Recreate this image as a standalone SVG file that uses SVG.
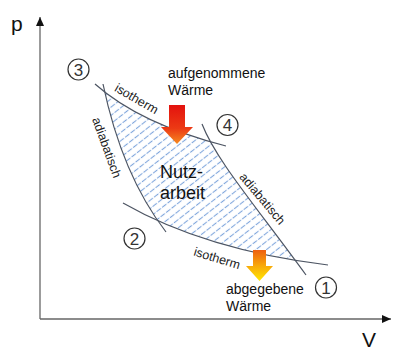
<svg xmlns="http://www.w3.org/2000/svg" width="405" height="363" viewBox="0 0 405 363">
<style>
.t{font-family:"Liberation Sans",Arial,sans-serif;fill:#111}
.lbl{font-family:"Liberation Sans",Arial,sans-serif;fill:#222;font-size:12.5px}
.curve{fill:none;stroke:#4d5563;stroke-width:1.2}
.state circle{fill:#fff;stroke:#333;stroke-width:1.2}
.state text{font-family:"Liberation Sans",Arial,sans-serif;font-size:17px;fill:#333;text-anchor:middle}
.axis{stroke:#666;stroke-width:1.3;fill:none}
</style>
<defs>
<pattern id="hatch" width="7" height="6.5" patternUnits="userSpaceOnUse" patternTransform="rotate(-38)">
<line x1="0" y1="3.25" x2="7" y2="3.25" stroke="#7fa6dc" stroke-width="1.1" stroke-dasharray="5.5 1.5"/>
</pattern>
<clipPath id="cU"><path d="M0,84 L95,84 Q140,124 226,146 L400,146 L400,400 L0,400 Z"/></clipPath>
<clipPath id="cW"><path d="M0,0 L400,0 L400,265 L328,265 Q205,250 123,203 L0,203 Z"/></clipPath>
<clipPath id="cL"><path d="M103,84 Q122,175 166,232 L166,400 L400,400 L400,0 L103,0 Z"/></clipPath>
<clipPath id="cR"><path d="M202,124 C216,160 255,205 306,275 L306,400 L0,400 L0,0 L202,0 Z"/></clipPath>
<linearGradient id="gRed" x1="0" y1="0" x2="0" y2="1">
<stop offset="0" stop-color="#e3120e"/><stop offset="0.6" stop-color="#ec3a14"/><stop offset="1" stop-color="#f68a20"/>
</linearGradient>
<linearGradient id="gYel" x1="0" y1="0" x2="0" y2="1">
<stop offset="0" stop-color="#ee5f10"/><stop offset="0.5" stop-color="#f8a80a"/><stop offset="1" stop-color="#ffe800"/>
</linearGradient>
<marker id="ah" markerWidth="10" markerHeight="10" refX="9" refY="4" orient="auto" markerUnits="userSpaceOnUse">
<path d="M0,0 L9,4 L0,8 Z" fill="#111"/>
</marker>
</defs>

<g id="axes">
<line class="axis" x1="40" y1="319" x2="40" y2="17" marker-end="url(#ah)"/>
<line class="axis" x1="40" y1="319" x2="391" y2="319" marker-end="url(#ah)"/>
<text class="t" x="11" y="31" font-size="21">p</text>
<text class="t" x="362" y="347" font-size="21">V</text>
</g>

<g id="work-area">
<g clip-path="url(#cU)"><g clip-path="url(#cW)"><g clip-path="url(#cL)">
<rect x="0" y="0" width="405" height="363" fill="url(#hatch)" clip-path="url(#cR)"/>
</g></g></g>
</g>

<g id="connectors">
<path id="isotherm-upper" class="curve" d="M95,84 Q140,124 226,146"/>
<path id="isotherm-lower" class="curve" d="M123,203 Q205,250 328,265"/>
<path id="adiabat-left" class="curve" d="M103,84 Q122,175 166,232"/>
<path id="adiabat-right" class="curve" d="M202,124 C216,160 255,205 306,275"/>
</g>

<g id="curve-labels">
<text class="lbl" text-anchor="middle" transform="translate(134.5,102.5) rotate(30)">isotherm</text>
<text class="lbl" text-anchor="middle" transform="translate(215.8,262.3) rotate(17)">isotherm</text>
<text class="lbl" font-size="13" text-anchor="middle" transform="translate(102.8,149) rotate(70)">adiabatisch</text>
<text class="lbl" font-size="13" text-anchor="middle" transform="translate(259.1,201.4) rotate(50)">adiabatisch</text>
</g>

<g id="state-3" class="state"><circle cx="78.5" cy="69.5" r="10.5"/><text x="78.5" y="75.5">3</text></g>
<g id="state-4" class="state"><circle cx="227.5" cy="125" r="10.5"/><text x="227.5" y="131">4</text></g>
<g id="state-2" class="state"><circle cx="134.5" cy="238.5" r="10.5"/><text x="134.5" y="244.5">2</text></g>
<g id="state-1" class="state"><circle cx="326" cy="287.5" r="10.5"/><text x="326" y="293.5">1</text></g>

<g id="heat-in">
<path d="M169,105 L185,105 L185,127 L193,127 L177,144 L161,127 L169,127 Z" fill="url(#gRed)"/>
<text class="t" font-size="14" x="168" y="78">aufgenommene</text>
<text class="t" font-size="14" x="168" y="95">Wärme</text>
</g>

<g id="heat-out">
<path d="M253,250 L266,250 L266,266 L273,266 L259.5,281 L246,266 L253,266 Z" fill="url(#gYel)"/>
<text class="t" font-size="14" x="226" y="294">abgegebene</text>
<text class="t" font-size="14" x="226" y="311">Wärme</text>
</g>

<g id="work-label">
<text class="t" font-size="18" x="160" y="178">Nutz-</text>
<text class="t" font-size="18" x="160" y="199">arbeit</text>
</g>
</svg>
